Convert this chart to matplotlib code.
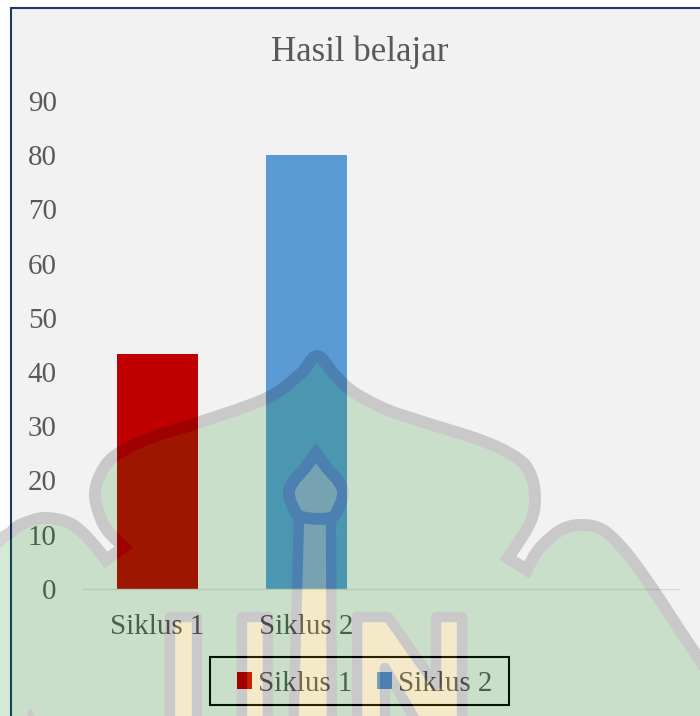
import numpy as np
import matplotlib
matplotlib.use('Agg')
import matplotlib.pyplot as plt
from matplotlib.patches import Rectangle, Polygon

plt.rcParams['font.family'] = ['Liberation Serif', 'DejaVu Serif']

W, H = 700, 716

categories = ['Siklus 1', 'Siklus 2']
values = [43.3, 80]
colors = ['#c00000', '#5b9bd5']
y_ticks = [0, 10, 20, 30, 40, 50, 60, 70, 80, 90]
text_color = '#595959'

# watermark shape, in image pixels
lobe_left = [(-30, 570), (0, 540), (10, 533), (20, 525), (43, 518), (67, 522), (83, 533), (100, 552), (106, 560)]
notch_left = [(106, 560), (124, 547)]
dome = [(124, 547), (105, 527), (95, 497), (101, 473), (116, 455), (150, 438), (197, 423), (267, 398),
        (300, 374), (317, 356), (334, 374), (352, 391), (383, 408), (417, 420), (483, 441), (517, 458),
        (530, 473), (535, 497), (530, 523), (508, 558)]
notch_right = [(508, 558), (527, 570)]
lobe_right = [(527, 570), (536, 553), (550, 538), (565, 528), (583, 525), (603, 530), (625, 551),
              (650, 585), (683, 635), (720, 690)]

bulb = [(316, 453), (305, 468), (293, 482), (289, 493), (293, 507), (302, 517), (330, 518), (339, 507),
        (343, 493), (339, 482), (327, 468), (316, 453)]
stem = [(299, 517), (331, 520), (332, 740), (293, 740)]
u_left = [(170, 617), (197, 617), (197, 740), (170, 740)]
u_right = [(242, 617), (268, 617), (268, 740), (242, 740)]
letter_n = [(357, 617), (388, 617), (436, 685), (436, 617), (462, 617), (462, 745), (430, 745),
            (385, 668), (385, 745), (357, 745)]


def smooth(pts, n=16):
    # catmull-rom through the hand read points
    p = np.array([pts[0]] + pts + [pts[-1]], dtype=float)
    out = []
    for i in range(1, len(p) - 2):
        for t in np.linspace(0, 1, n, endpoint=False):
            out.append(0.5 * (2 * p[i] + (p[i + 1] - p[i - 1]) * t
                              + (2 * p[i - 1] - 5 * p[i] + 4 * p[i + 1] - p[i + 2]) * t ** 2
                              + (3 * p[i] - p[i - 1] - 3 * p[i + 1] + p[i + 2]) * t ** 3))
    out.append(p[-2])
    return np.array(out)


def make_watermark():
    f = plt.figure(figsize=(W / 100, H / 100), dpi=100)
    f.patch.set_alpha(0)
    a = f.add_axes([0, 0, 1, 1])
    a.set_xlim(0, W)
    a.set_ylim(H, 0)
    a.axis('off')
    outline = np.vstack([smooth(lobe_left), np.array(notch_left), smooth(dome),
                         np.array(notch_right), smooth(lobe_right),
                         np.array([(720, 760), (-30, 760)])])
    a.add_patch(Polygon(outline, closed=True, fc=(0, 133 / 255, 0), ec='black', lw=8.6, joinstyle='miter'))
    yellow = (1, 200 / 255, 0)
    for shape in [u_left, u_right, letter_n, stem]:
        a.add_patch(Polygon(shape, closed=True, fc=yellow, ec='black', lw=7.5, joinstyle='round'))
    a.add_patch(Polygon(smooth(bulb), closed=True, fc=yellow, ec='black', lw=8.6, joinstyle='miter'))
    # small mark at the lower left
    a.add_patch(Polygon([(30, 708), (45, 730), (22, 730)], closed=True, fc='black', ec='none'))
    f.canvas.draw()
    img = np.asarray(f.canvas.buffer_rgba()).astype(float) / 255
    plt.close(f)
    img = img.copy()
    img[..., 3] *= 0.17
    return img


fig = plt.figure(figsize=(W / 100, H / 100), dpi=100, facecolor='white')

# chart area, runs off the right and bottom of the picture
fig.patches.append(Rectangle((10.5 / W, -0.1), 720 / W, 1.1 - 8 / H, transform=fig.transFigure,
                             fc='#f2f2f2', ec='#1f3864', lw=1.5, zorder=-1))

ax = fig.add_axes([82.8 / W, 1 - 589 / H, 596 / W, (589 - 100.75) / H])
ax.patch.set_alpha(0)
for i, (cat, val, col) in enumerate(zip(categories, values, colors)):
    ax.bar(i, val, width=0.54, color=col, label=cat)
ax.set_xlim(-0.5, 3.5)
ax.set_ylim(0, 90)
ax.set_xticks(range(len(categories)))
ax.set_xticklabels(categories)
ax.set_yticks(y_ticks)
ax.tick_params(axis='both', length=0, labelsize=20.9, labelcolor=text_color)
ax.tick_params(axis='x', pad=18)
ax.tick_params(axis='y', pad=18.7)
for side in ['top', 'left', 'right']:
    ax.spines[side].set_visible(False)
ax.spines['bottom'].set_color('#d9d9d9')
ax.spines['bottom'].set_linewidth(1)

fig.text(360 / W, 1 - 52 / H, 'Hasil belajar', fontsize=25.1, color=text_color, ha='center', va='center')

leg = ax.legend(loc='center', bbox_to_anchor=(364.5 / W, 1 - 684 / H), bbox_transform=fig.transFigure,
                ncol=2, fontsize=20.9, frameon=False,
                handlelength=0.52, handleheight=0.52, handletextpad=0.2, columnspacing=0.86,
                borderpad=0.35, borderaxespad=0)
for t in leg.get_texts():
    t.set_color(text_color)
fig.patches.append(Rectangle((210 / W, 1 - 705 / H), 299 / W, 48 / H, transform=fig.transFigure,
                             fc='none', ec='black', lw=1.5, zorder=2))

fig.figimage(make_watermark(), 0, 0, origin='upper', zorder=10)

fig.savefig('out.png', dpi=100)
